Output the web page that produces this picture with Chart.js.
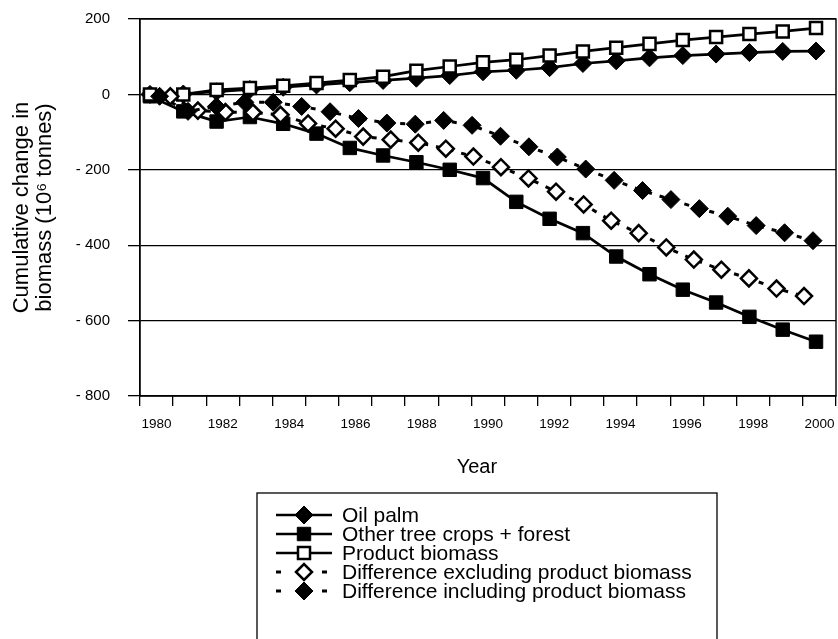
<!DOCTYPE html>
<html>
<head>
<meta charset="utf-8">
<script src="https://cdn.jsdelivr.net/npm/chart.js@4.4.0/dist/chart.umd.min.js"></script>
<style>
  html, body { margin: 0; padding: 0; background: #fff; }
  canvas { display: block; }
</style>
</head>
<body>
<canvas id="chart" width="838" height="639"></canvas>
<script>
// Years on the category axis
const years = [1980, 1981, 1982, 1983, 1984, 1985, 1986, 1987, 1988, 1989, 1990,
               1991, 1992, 1993, 1994, 1995, 1996, 1997, 1998, 1999, 2000];

// Cumulative change in biomass (10^6 tonnes)
const oilPalm = [0, 1, 7, 13, 19, 25, 31, 37, 43, 50, 60, 64, 71, 82, 89, 97, 103, 107, 111, 114, 115];
const otherTreeCrops = [-5, -45, -72, -60, -78, -104, -142, -162, -180, -200, -222, -285, -330, -368, -430, -477, -518, -552, -590, -624, -656];
const productBiomass = [0, 0, 12, 17, 23, 30, 38, 47, 63, 74, 85, 92, 103, 114, 124, 134, 144, 152, 160, 167, 176];

// The two difference series are plotted on their own step scales
const diffExcluding = [-5, -43, -47, -48, -54, -77, -91, -112, -120, -128, -144, -165, -193, -223, -258, -292, -335, -368, -406, -438, -465, -488, -515, -535];
const diffIncluding = [-5, -45, -32, -21, -21, -32, -46, -64, -76, -79, -69, -82, -111, -139, -166, -198, -228, -255, -279, -303, -323, -348, -367, -388];

// Value axis ticks
const yTicks = [-800, -600, -400, -200, 0, 200];

const FONT = '"Liberation Sans", Arial, Helvetica, sans-serif';
Chart.defaults.font.family = FONT;
Chart.defaults.color = '#000';

const byYear = arr => years.map((yr, i) => ({ x: yr, y: arr[i] }));
const bySteps = arr => arr.map((v, i) => ({ x: i, y: v }));

// Plot frame around the chart area
const framePlugin = {
  id: 'frame',
  beforeDatasetsDraw(chart) {
    const { ctx, chartArea: a } = chart;
    ctx.save();
    ctx.strokeStyle = '#000';
    ctx.lineWidth = 1.4;
    ctx.strokeRect(a.left, a.top, a.right - a.left, a.bottom - a.top);
    ctx.restore();
  }
};

// Boxed legend below the axis title, line + marker samples
const boxLegend = {
  id: 'boxLegend',
  afterDraw(chart) {
    const ctx = chart.ctx;
    const box = { left: 257, top: 493, right: 717, bottom: 660 };
    ctx.save();
    ctx.strokeStyle = '#000';
    ctx.lineWidth = 1.3;
    ctx.strokeRect(box.left, box.top, box.right - box.left, box.bottom - box.top);
    const x0 = 276, x1 = 332, xm = 304, rowTop = 515, rowGap = 19;
    chart.data.datasets.forEach((ds, i) => {
      const y = rowTop + i * rowGap;
      ctx.strokeStyle = ds.borderColor;
      ctx.lineWidth = ds.borderWidth;
      ctx.setLineDash(ds.borderDash ? [5, 18] : []);
      ctx.beginPath();
      ctx.moveTo(x0, y);
      ctx.lineTo(ds.borderDash ? 330 : x1, y);
      ctx.stroke();
      ctx.setLineDash([]);
      ctx.fillStyle = ds.pointBackgroundColor;
      ctx.strokeStyle = ds.pointBorderColor;
      ctx.lineWidth = ds.pointBorderWidth;
      Chart.helpers.drawPoint(ctx, {
        pointStyle: ds.pointStyle, radius: ds.pointRadius,
        rotation: 0, borderWidth: ds.pointBorderWidth
      }, xm, y);
      ctx.fillStyle = '#000';
      ctx.font = '21px ' + FONT;
      ctx.textAlign = 'left';
      ctx.textBaseline = 'middle';
      ctx.fillText(ds.label, 342, y + 1);
    });
    ctx.restore();
  }
};

new Chart(document.getElementById('chart'), {
  type: 'line',
  data: {
    labels: years.map(String),
    datasets: [
      {
        label: 'Oil palm', data: byYear(oilPalm), xAxisID: 'xYear',
        borderColor: '#000', borderWidth: 2.7,
        pointStyle: 'rectRot', pointRadius: 9,
        pointBackgroundColor: '#000', pointBorderColor: '#000', pointBorderWidth: 1,
        order: 5
      },
      {
        label: 'Other tree crops + forest', data: byYear(otherTreeCrops), xAxisID: 'xYear',
        borderColor: '#000', borderWidth: 2.7,
        pointStyle: 'rect', pointRadius: 9.5,
        pointBackgroundColor: '#000', pointBorderColor: '#000', pointBorderWidth: 1,
        order: 4
      },
      {
        label: 'Product biomass', data: byYear(productBiomass), xAxisID: 'xYear',
        borderColor: '#000', borderWidth: 2.7,
        pointStyle: 'rect', pointRadius: 8.5,
        pointBackgroundColor: '#fff', pointBorderColor: '#000', pointBorderWidth: 2.5,
        order: 3
      },
      {
        label: 'Difference excluding product biomass', data: bySteps(diffExcluding), xAxisID: 'xExcl',
        borderColor: '#000', borderWidth: 3, borderDash: [5, 8],
        pointStyle: 'rectRot', pointRadius: 8,
        pointBackgroundColor: '#fff', pointBorderColor: '#000', pointBorderWidth: 2.5,
        order: 2
      },
      {
        label: 'Difference including product biomass', data: bySteps(diffIncluding), xAxisID: 'xIncl',
        borderColor: '#000', borderWidth: 3, borderDash: [5, 8],
        pointStyle: 'rectRot', pointRadius: 9,
        pointBackgroundColor: '#000', pointBorderColor: '#000', pointBorderWidth: 1,
        order: 1
      }
    ]
  },
  options: {
    responsive: false,
    animation: false,
    devicePixelRatio: 1,
    layout: { autoPadding: false, padding: { top: 19, right: 2, left: 0, bottom: 0 } },
    plugins: { legend: { display: false }, tooltip: { enabled: false } },
    elements: { line: { tension: 0 } },
    scales: {
      x: {
        type: 'category',
        position: 'bottom',
        offset: true,
        grid: { offset: true, drawOnChartArea: false, drawTicks: true, tickLength: 10, color: '#000', lineWidth: 1.3 },
        border: { display: true, color: '#000', width: 1.3 },
        ticks: {
          autoSkip: false, maxRotation: 0, minRotation: 0, padding: 10,
          font: { size: 13.5 }, color: '#000',
          callback: (v, i) => (i % 2 === 0 ? String(years[i]) : '')
        },
        title: { display: true, text: 'Year\u00a0\u00a0\u00a0\u00a0', font: { size: 20, lineHeight: 1.1 }, color: '#000', padding: { top: 0, bottom: 161 } },
        afterFit: s => { s.height = 243; s.paddingLeft = 0; s.paddingRight = 0; }
      },
      xYear: { type: 'linear', display: false, min: 1979.7, max: 2000.6 },
      xIncl: { type: 'linear', display: false, min: -0.69, max: 23.81 },
      xExcl: { type: 'linear', display: false, min: -1.10, max: 24.16 },
      y: {
        min: yTicks[0], max: yTicks[yTicks.length - 1],
        afterBuildTicks: s => { s.ticks = yTicks.map(v => ({ value: v })); },
        grid: { color: '#000', lineWidth: 1.3, tickLength: 12 },
        border: { color: '#000', width: 1.3 },
        ticks: {
          padding: 18, font: { size: 15 }, color: '#000',
          callback: v => (v < 0 ? '- ' + (-v) : String(v))
        },
        title: {
          display: true,
          text: ['Cumulative change in', 'biomass (10\u2076 tonnes)'],
          font: { size: 22, lineHeight: 1.05 }, color: '#000',
          padding: { top: 10, bottom: 0 }
        },
        afterFit: s => { s.width = 140; s.paddingTop = 0; s.paddingBottom = 0; }
      }
    }
  },
  plugins: [framePlugin, boxLegend]
});
</script>
</body>
</html>
